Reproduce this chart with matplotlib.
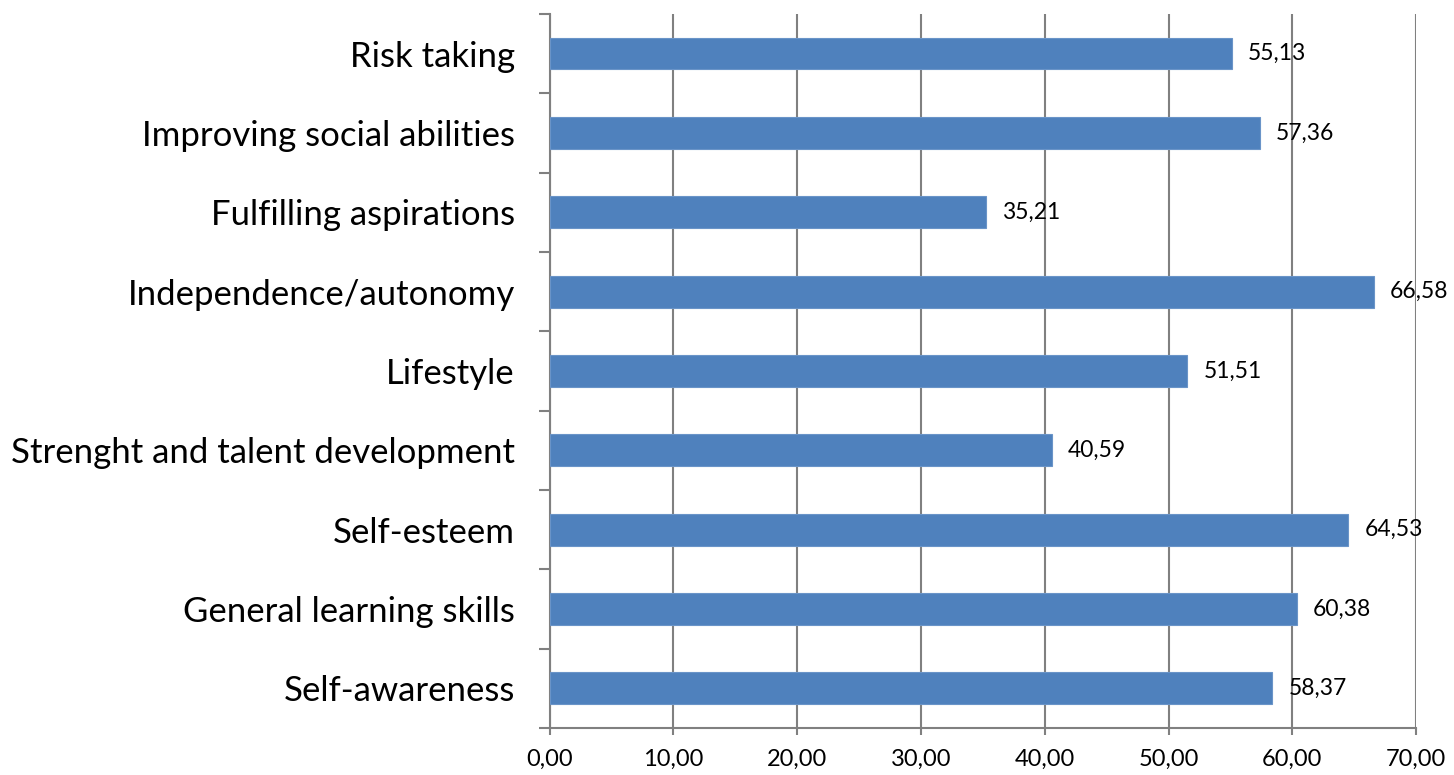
import matplotlib.pyplot as plt
import numpy as np

# Categories listed bottom to top
categories = [
    "Self-awareness",
    "General learning skills",
    "Self-esteem",
    "Strenght and talent development",
    "Lifestyle",
    "Independence/autonomy",
    "Fulfilling aspirations",
    "Improving social abilities",
    "Risk taking",
]
values = [58.37, 60.38, 64.53, 40.59, 51.51, 66.58, 35.21, 57.36, 55.13]
x_ticks = [0, 10, 20, 30, 40, 50, 60, 70]

plt.rcParams['font.family'] = ['Lato', 'DejaVu Sans']

fig = plt.figure(figsize=(14.54, 7.75), dpi=100)
ax = fig.add_axes([0.378, 0.0606, 0.596, 0.9214])

y = np.arange(len(categories))
ax.barh(y, values, height=0.4, color='#4F81BD', edgecolor='#6A94C8', linewidth=0.8, zorder=3)

for yi, v in zip(y, values):
    ax.text(v + 1.3, yi, f"{v:.2f}".replace('.', ','), va='center', ha='left',
            fontsize=16.5, zorder=4)

ax.set_xlim(0, 70)
ax.set_ylim(-0.5, len(categories) - 0.5)
ax.set_xticks(x_ticks)
ax.set_xticklabels([f"{t:.2f}".replace('.', ',') for t in x_ticks], fontsize=17)

# category labels centred, tick marks on category boundaries
ax.set_yticks(y)
ax.set_yticklabels(categories, fontsize=25)
ax.tick_params(axis='y', which='major', length=0, pad=25)
ax.set_yticks(np.arange(-0.5, len(categories), 1.0), minor=True)
ax.tick_params(axis='y', which='minor', length=8, width=1.5, color='#808080')
ax.tick_params(axis='x', length=5, width=1.5, color='#808080', pad=10)

ax.grid(axis='x', color='#808080', linewidth=1.5, zorder=0)
for side in ['top', 'right']:
    ax.spines[side].set_visible(False)
for side in ['left', 'bottom']:
    ax.spines[side].set_color('#808080')
    ax.spines[side].set_linewidth(1.5)

fig.savefig('out.png', dpi=100, facecolor='white')
